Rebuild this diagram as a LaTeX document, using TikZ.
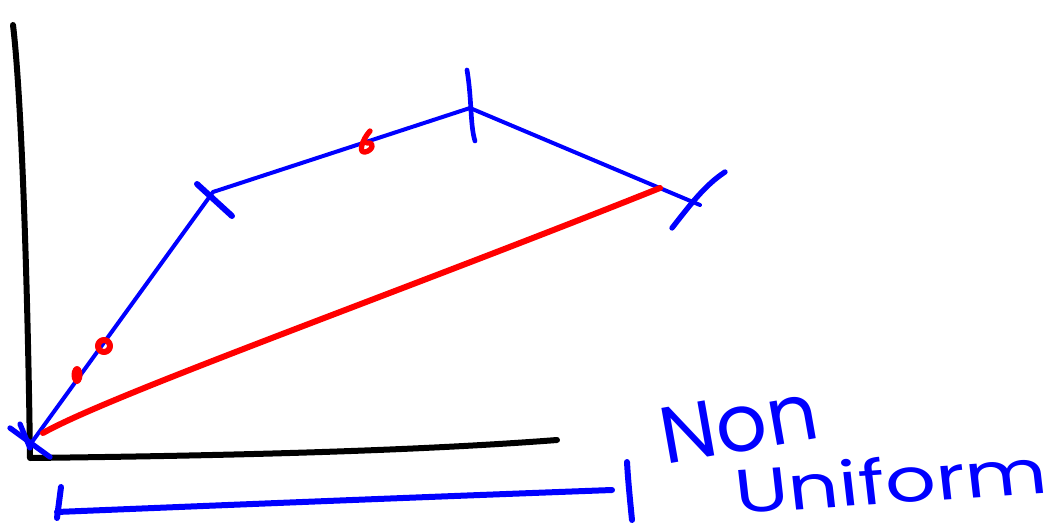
\documentclass[tikz,border=0pt]{standalone}
\usepackage{fontspec}
\setmainfont{Poppins}
\usepackage{xcolor}
\definecolor{PenBlue}{HTML}{0000FF}
\definecolor{PenRed}{HTML}{FF0000}
\definecolor{PenBlack}{HTML}{000000}

\begin{document}
\begin{tikzpicture}[x=0.75pt,y=-0.75pt,line cap=round,line join=round]
    \useasboundingbox (0,0) rectangle (1060,528);
    % axes
    \draw[PenBlack,line width=4.5pt] (13,25) .. controls (22,100) and (28,300) .. (30,458)
          .. controls (200,456) and (400,452) .. (557,440);
    % points on the curve
    \coordinate (origin) at (32,442);
    \coordinate (knotA) at (213,192);
    \coordinate (knotB) at (470,108);
    \coordinate (knotC) at (700,205);
    \coordinate (chordEnd) at (660,188);
    % polyline
    \draw[PenBlue,line width=3pt] (origin) -- (knotA) -- (knotB) -- (knotC);
    % knot ticks
    \draw[PenBlue,line width=4pt] (10,428) -- (50,457);
    \draw[PenBlue,line width=4pt] (20,424) -- (30,448);
    \draw[PenBlue,line width=4.5pt] (197,184) -- (232,216);
    \draw[PenBlue,line width=3.5pt] (467,70) .. controls (472,100) and (470,125) .. (475,141);
    \draw[PenBlue,line width=4pt] (672,228) .. controls (690,205) and (705,185) .. (725,172);
    % chord
    \draw[PenRed,line width=4.5pt] (43,433) .. controls (110,395) and (400,292) .. (chordEnd);
    % red marks
    \fill[PenRed] (77,375) ellipse (5.5 and 9);
    \draw[PenRed,line width=4.5pt] (104,346) ellipse (6 and 6);
    \draw[PenRed,line width=4pt] (370,131) .. controls (362,140) and (358,153) .. (365,152)
          .. controls (372,151) and (376,142) .. (367,143);
    % span of the parameter
    \draw[PenBlue,line width=4.5pt] (57,512) .. controls (250,504) and (450,496) .. (612,490);
    \draw[PenBlue,line width=4.5pt] (61,487) -- (57,518);
    \draw[PenBlue,line width=4.5pt] (627,462) .. controls (628,480) and (630,500) .. (632,520);
    % label
    \node[PenBlue,inner sep=0pt,font=\fontsize{60}{64}\selectfont,rotate=10,anchor=base west] (nonlabel) at (665,465) {Non};
    \node[PenBlue,inner sep=0pt,font=\fontsize{46}{50}\selectfont,xscale=1.3,rotate=5,anchor=base west] (uniformlabel) at (737,514) {Uniform};
\end{tikzpicture}
\end{document}
